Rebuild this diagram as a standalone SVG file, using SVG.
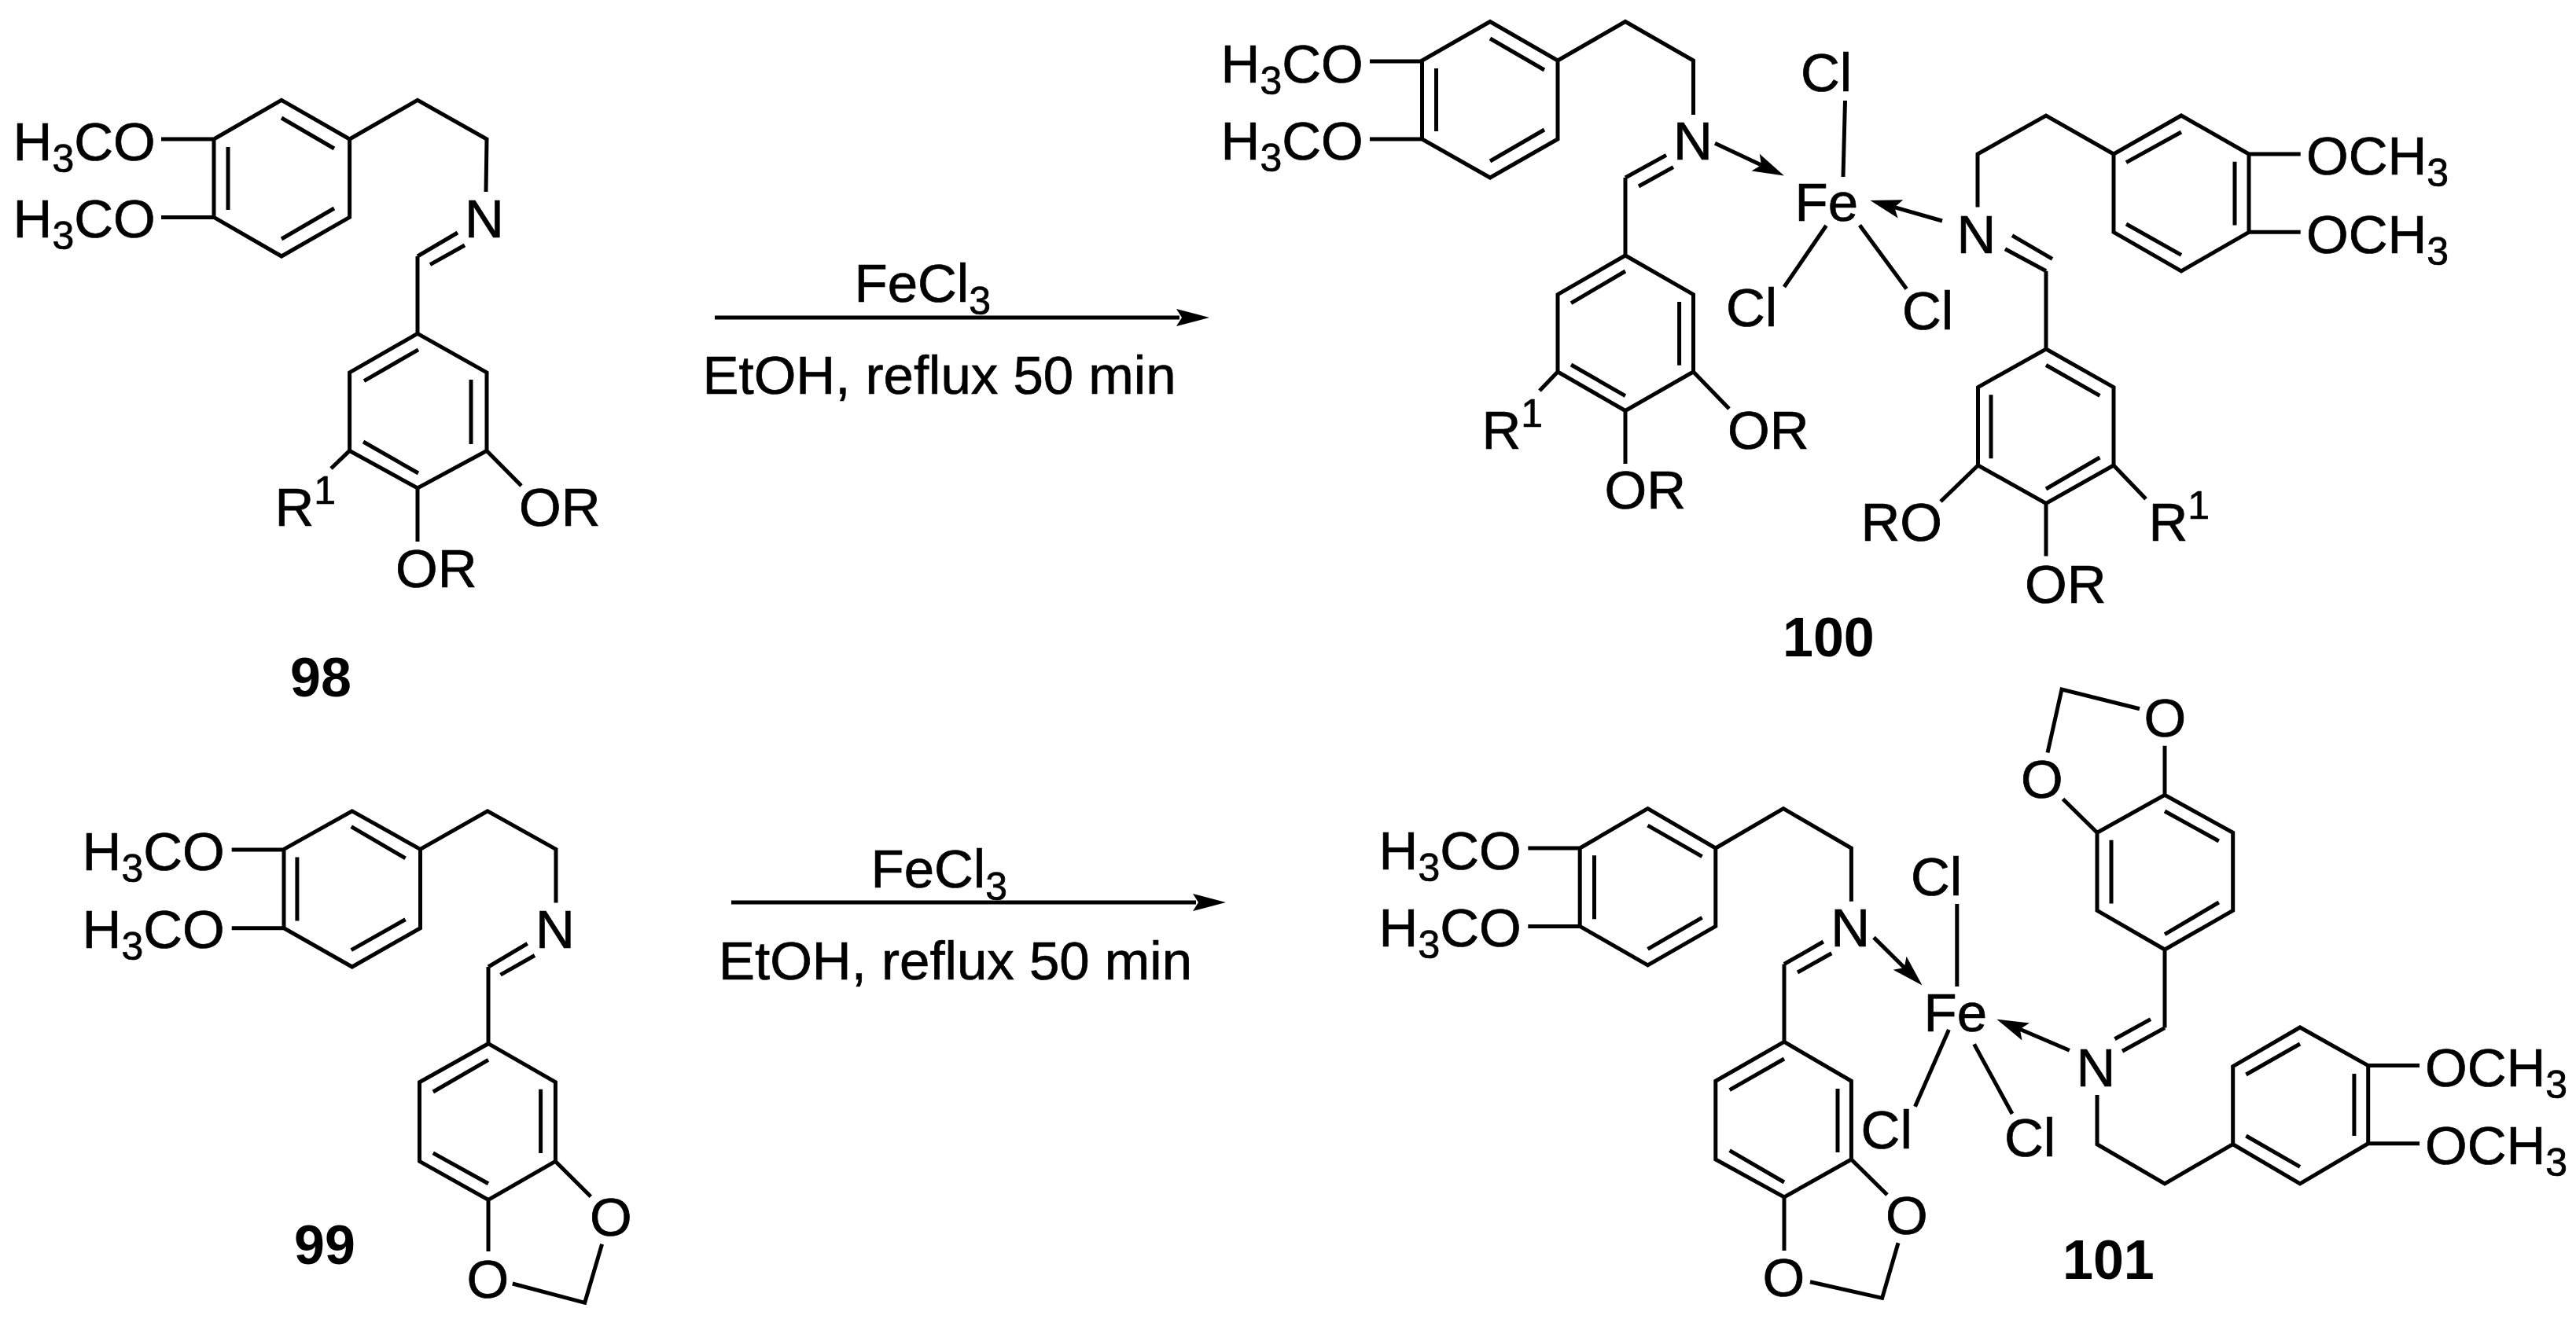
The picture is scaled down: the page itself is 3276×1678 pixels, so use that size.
<svg xmlns="http://www.w3.org/2000/svg" width="3276" height="1678" viewBox="0 0 3276 1678">
<style>
text{font-family:"Liberation Sans",Arial,sans-serif;font-size:69px;fill:#000;stroke:#000;stroke-width:.7}
.n{font-weight:bold;font-size:70px;stroke:none}
.b{fill:none;stroke:#000;stroke-width:5;stroke-linejoin:miter;stroke-linecap:butt}
.a{fill:none;stroke:#000;stroke-width:5;marker-end:url(#h)}
.r{fill:none;stroke:#000;stroke-width:4.8;marker-end:url(#big)}
tspan.s{font-size:50px}
</style>
<defs>
<marker id="h" markerUnits="userSpaceOnUse" markerWidth="50" markerHeight="30" refX="28" refY="15" orient="auto"><path d="M40,15 L0,3 L8,15 L0,27Z" fill="#000"/></marker>
<marker id="big" markerUnits="userSpaceOnUse" markerWidth="50" markerHeight="34" refX="4" refY="17" orient="auto"><path d="M42,17 L0,6 L7,17 L0,28Z" fill="#000"/></marker>
</defs>
<rect width="3276" height="1678" fill="#fff"/>

<g id="m98">
<path class="b" d="M358,127.4L444.6,177V276.4L358,326L272,276.4V177ZM444.6,177L531,127.4L619,177L618,244M531,326L582,296M547,336.6L591,312M531,326V424.4M531,424.4L619,473.9V573.4L531,621L444.6,573.4V473.9ZM358,150L425,189M290,187V267M358,304L425,265M532,444.8L463,484.6M599,483V565M462,562L532,602M444.6,573.4L421,596M619,573.4L663,618M531,621V689M205,177H272M205,276.4H272"/>
<text x="16.6" y="203.5">H<tspan class="s" dy="15">3</tspan><tspan dy="-15">CO</tspan></text>
<text x="16.6" y="302">H<tspan class="s" dy="15">3</tspan><tspan dy="-15">CO</tspan></text>
<text x="591" y="302">N</text>
<text x="349.5" y="669">R<tspan class="s" dy="-28">1</tspan></text>
<text x="660" y="669">OR</text>
<text x="503" y="747">OR</text>
<text class="n" x="369" y="886">98</text>
</g>

<g id="m99">
<path class="b" d="M447.8,1031.9L534.5,1080.4V1180.7L447.8,1230L361,1180.7V1080.4ZM446.7,1051.6L515.6,1091.9M377.9,1090.5V1171.5M446.7,1208.6L515.6,1169.7M534.5,1080.4L620,1031.9L707,1080.4V1148.6M621,1230L670.7,1200.4M636.5,1240.2L680,1215.5M621,1230V1327.7M621,1327.7L706.4,1376.7V1477.4L621,1526.4L533.5,1477.4V1376.7ZM621,1348.3L550.8,1389M687.6,1385.8V1466.9M550.8,1466.9L621,1505.8M706.4,1477.4L751.3,1522.3M621,1526.4V1591.9M765.6,1582.7L743.7,1657.3L651.8,1633M294.7,1081H361M294.7,1180.7H361"/>
<text x="104.6" y="1107.4">H<tspan class="s" dy="15">3</tspan><tspan dy="-15">CO</tspan></text>
<text x="104.6" y="1206.3">H<tspan class="s" dy="15">3</tspan><tspan dy="-15">CO</tspan></text>
<text x="681" y="1206.3">N</text>
<text x="750" y="1572">O</text>
<text x="593.4" y="1651.4">O</text>
<text class="n" x="374" y="1608">99</text>
</g>

<g id="m100">
<path class="b" d="M1895,27.5L1981,77V177L1895,226L1808.5,177V77ZM1895,49L1964,89M1826.5,87V167M1895,205L1964,165M1981,77L2067,27.5L2153.5,77V146M2067,226L2119,197.4M2084,237L2128,212.6M2067,226V325M2067,325L2153.5,374.7V473L2067,522.5L1981,473V374.7ZM2067,345L1998,385.7M2135.6,384V464.7M1998,464L2067,503.7M1981,473L1958,497M2153.5,473L2199,520M2067,522.5V590M1742,78H1808.5M1742,177H1808.5"/>
<path class="b" d="M2346.5,128L2344,225M2322.5,287L2269,365M2365,286.6L2424.6,367.6"/>
<path class="b" d="M2688,196L2774,147L2860,196V295.3L2774,344.8L2688,295.3ZM2704,206.6L2774,168M2842,205.7V286.6M2704,285L2774,324.4M2515,263.4V196L2602,147L2688,196M2860,196H2925.7M2860,295.3H2925.7M2550,316.7L2602,344.8M2559,299.7L2610,329.3M2602,344.8V444M2602,444L2688,492.6V592L2602,640.5L2515.5,592V492.6ZM2602,464.5L2670.4,503.3M2532,502.3V583.3M2602,622L2670.4,582M2515.5,592L2468,638M2688,592L2729,634.7M2602,640.5V707.4"/>
<path class="a" d="M2181,182.3L2258,218.5"/>
<path class="a" d="M2470,281L2390,258.2"/>
<text x="1552.6" y="104.7">H<tspan class="s" dy="15">3</tspan><tspan dy="-15">CO</tspan></text>
<text x="1552.6" y="203.4">H<tspan class="s" dy="15">3</tspan><tspan dy="-15">CO</tspan></text>
<text x="2128" y="203.4">N</text>
<text x="2282.5" y="281">Fe</text>
<text x="2290" y="115.7">Cl</text>
<text x="2195" y="414.6">Cl</text>
<text x="2419" y="419">Cl</text>
<text x="1884.5" y="570.7">R<tspan class="s" dy="-28">1</tspan></text>
<text x="2197" y="570.7">OR</text>
<text x="2040.5" y="647.4">OR</text>
<text x="2488.5" y="321.5">N</text>
<text x="2933" y="222">OCH<tspan class="s" dy="15">3</tspan></text>
<text x="2933" y="321.5">OCH<tspan class="s" dy="15">3</tspan></text>
<text x="2366.5" y="688">RO</text>
<text x="2732.5" y="688">R<tspan class="s" dy="-28">1</tspan></text>
<text x="2575" y="766.5">OR</text>
<text class="n" x="2267" y="835">100</text>
</g>

<g id="m101">
<path class="b" d="M2095.5,1028.7L2181.8,1079V1178.4L2095.5,1227.9L2009.2,1178.4V1079ZM2095.5,1050.2L2164.6,1089.6M2027.5,1088.2V1169.2M2095.5,1207.3L2164.6,1167.4M2181.8,1079L2268,1028.7L2354.4,1079V1146.8M2269,1226.5L2318.8,1198M2286,1237L2329.3,1212.7M2269,1226.5V1325.4M2269,1325.4L2354.4,1375.3V1475L2269,1523L2181.8,1475V1375.3ZM2269,1347L2199.6,1386.7M2337,1385V1466M2199.6,1463.7L2269,1504M2354.4,1475L2400,1520M2269,1523V1591M2414,1581.3L2393.6,1651.4L2302,1630.8M1943.3,1079H2009.2M1943.3,1178.4H2009.2"/>
<path class="b" d="M2488.8,1150V1255M2478.4,1310L2435.5,1407.8M2510.6,1328.4L2559,1417"/>
<path class="b" d="M2667,1393V1455.7L2753,1505.8L2839.7,1455.7M2839.7,1455.7V1356.6L2925,1307L3011.7,1355.6V1454.7L2925,1505.8ZM2856.4,1367L2925,1328M2993.9,1366V1445M2856.4,1445L2925,1484.4M3011.7,1355.6H3077M3011.7,1454.7H3077M2699,1337.3L2753,1307.6M2689.4,1321.7L2735,1296.6M2753,1307.6V1208M2753,1208L2839.7,1158.4V1059.3L2753,1011.3L2667,1059.3V1158.4ZM2753,1188.6L2821.8,1148M2685,1068.7V1149.5M2753,1032L2821.8,1070M2667,1059.3L2623.5,1016.5M2753,1011.3V948.7M2604,957.5L2622,877L2721,901.7"/>
<path class="a" d="M2383,1192.6L2436,1245"/>
<path class="a" d="M2631.8,1336.3L2550.5,1301.5"/>
<text x="1753.6" y="1105.6">H<tspan class="s" dy="15">3</tspan><tspan dy="-15">CO</tspan></text>
<text x="1753.6" y="1204">H<tspan class="s" dy="15">3</tspan><tspan dy="-15">CO</tspan></text>
<text x="2328.2" y="1204">N</text>
<text x="2446.5" y="1311.6">Fe</text>
<text x="2430" y="1138.6">Cl</text>
<text x="2366.6" y="1461.4">Cl</text>
<text x="2549" y="1471.4">Cl</text>
<text x="2398" y="1570">O</text>
<text x="2241.6" y="1649">O</text>
<text x="2640.5" y="1381.6">N</text>
<text x="3084" y="1381.6">OCH<tspan class="s" dy="15">3</tspan></text>
<text x="3084" y="1480.8">OCH<tspan class="s" dy="15">3</tspan></text>
<text x="2726.6" y="936.7">O</text>
<text x="2570" y="1015">O</text>
<text class="n" x="2623" y="1627">101</text>
</g>

<g id="connectors">
<path class="r" d="M909,404H1500"/>
<path class="r" d="M930,1148H1521"/>
</g>
<g id="labels">
<text x="1086.5" y="384">FeCl<tspan class="s" dy="16">3</tspan></text>
<text x="893.5" y="501">EtOH, reflux 50 min</text>
<text x="1107.5" y="1129">FeCl<tspan class="s" dy="16">3</tspan></text>
<text x="914" y="1246">EtOH, reflux 50 min</text>
</g>
</svg>
